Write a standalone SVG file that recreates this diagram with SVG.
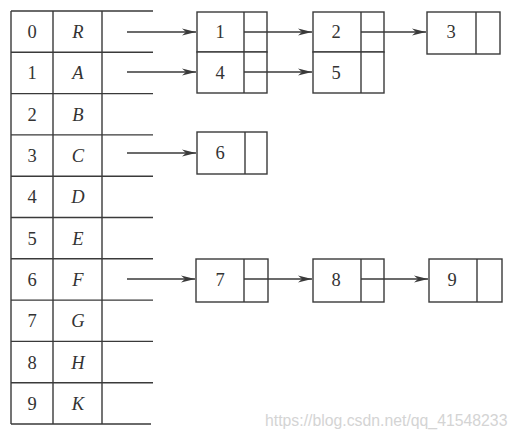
<svg xmlns="http://www.w3.org/2000/svg" width="519" height="438" viewBox="0 0 519 438">
<style>
.ln{stroke:#3a3a3a;stroke-width:1.4;fill:none}
.bx{stroke:#3a3a3a;stroke-width:1.4;fill:#fff}
.t{font-family:"Liberation Serif","Times New Roman",serif;font-size:18.5px;fill:#333;text-anchor:middle}
.i{font-style:italic}
.wm{font-family:"Liberation Sans",Arial,sans-serif;font-size:15.8px;fill:#d4d4d4}
</style>
<defs>
<marker id="ah" markerWidth="15" markerHeight="9" refX="14" refY="4.5" orient="auto" markerUnits="userSpaceOnUse">
<path d="M0,1 L14,4.5 L0,8 L4,4.5 Z" fill="#3a3a3a"/>
</marker>
</defs>
<rect width="519" height="438" fill="#fff"/>
<g id="table">
<path class="ln" d="M11,11V424M53,11V424M102,11V424"/>
<path class="ln" d="M11,11H153M11,52.3H153M11,93.6H153M11,134.9H153M11,176.2H153M11,217.5H153M11,258.8H153M11,300.1H153M11,341.4H153M11,382.7H153M11,424H151"/>
<text class="t" x="32" y="38">0</text><text class="t i" x="78" y="38">R</text>
<text class="t" x="32" y="79">1</text><text class="t i" x="78" y="79">A</text>
<text class="t" x="32" y="120.5">2</text><text class="t i" x="78" y="120.5">B</text>
<text class="t" x="32" y="162">3</text><text class="t i" x="78" y="162">C</text>
<text class="t" x="32" y="203">4</text><text class="t i" x="78" y="203">D</text>
<text class="t" x="32" y="244.5">5</text><text class="t i" x="78" y="244.5">E</text>
<text class="t" x="32" y="286">6</text><text class="t i" x="78" y="286">F</text>
<text class="t" x="32" y="327">7</text><text class="t i" x="78" y="327">G</text>
<text class="t" x="32" y="368.5">8</text><text class="t i" x="78" y="368.5">H</text>
<text class="t" x="32" y="410">9</text><text class="t i" x="78" y="410">K</text>
</g>
<g id="node1"><rect class="bx" x="197" y="12" width="70" height="40"/><path class="ln" d="M244,12V52"/><text class="t" x="220" y="38">1</text></g>
<g id="node4"><rect class="bx" x="197" y="52" width="70" height="41"/><path class="ln" d="M244,52V93"/><text class="t" x="220" y="79">4</text></g>
<g id="node2"><rect class="bx" x="313" y="12" width="71" height="40"/><path class="ln" d="M361,12V52"/><text class="t" x="336" y="38">2</text></g>
<g id="node5"><rect class="bx" x="313" y="52" width="71" height="41"/><path class="ln" d="M361,52V93"/><text class="t" x="336" y="79">5</text></g>
<g id="node3"><rect class="bx" x="427" y="12" width="73" height="42"/><path class="ln" d="M476,12V54"/><text class="t" x="451" y="38">3</text></g>
<g id="node6"><rect class="bx" x="197" y="132" width="70" height="42"/><path class="ln" d="M245,132V174"/><text class="t" x="220" y="159">6</text></g>
<g id="node7"><rect class="bx" x="196" y="259" width="72" height="43"/><path class="ln" d="M244,259V302"/><text class="t" x="220" y="286">7</text></g>
<g id="node8"><rect class="bx" x="313" y="259" width="71" height="43"/><path class="ln" d="M361,259V302"/><text class="t" x="336" y="286">8</text></g>
<g id="node9"><rect class="bx" x="429" y="259" width="73" height="43"/><path class="ln" d="M477,259V302"/><text class="t" x="452" y="286">9</text></g>
<g id="connectors">
<path class="ln" d="M127,32H196" marker-end="url(#ah)"/>
<path class="ln" d="M127,72H196" marker-end="url(#ah)"/>
<path class="ln" d="M127,153H196" marker-end="url(#ah)"/>
<path class="ln" d="M127,279H195" marker-end="url(#ah)"/>
<path class="ln" d="M244,32H312" marker-end="url(#ah)"/>
<path class="ln" d="M244,72H312" marker-end="url(#ah)"/>
<path class="ln" d="M361,32H426" marker-end="url(#ah)"/>
<path class="ln" d="M244,279H312" marker-end="url(#ah)"/>
<path class="ln" d="M361,279H428" marker-end="url(#ah)"/>
</g>
<text class="wm" x="265" y="426">https://blog.csdn.net/qq_41548233</text>
</svg>
